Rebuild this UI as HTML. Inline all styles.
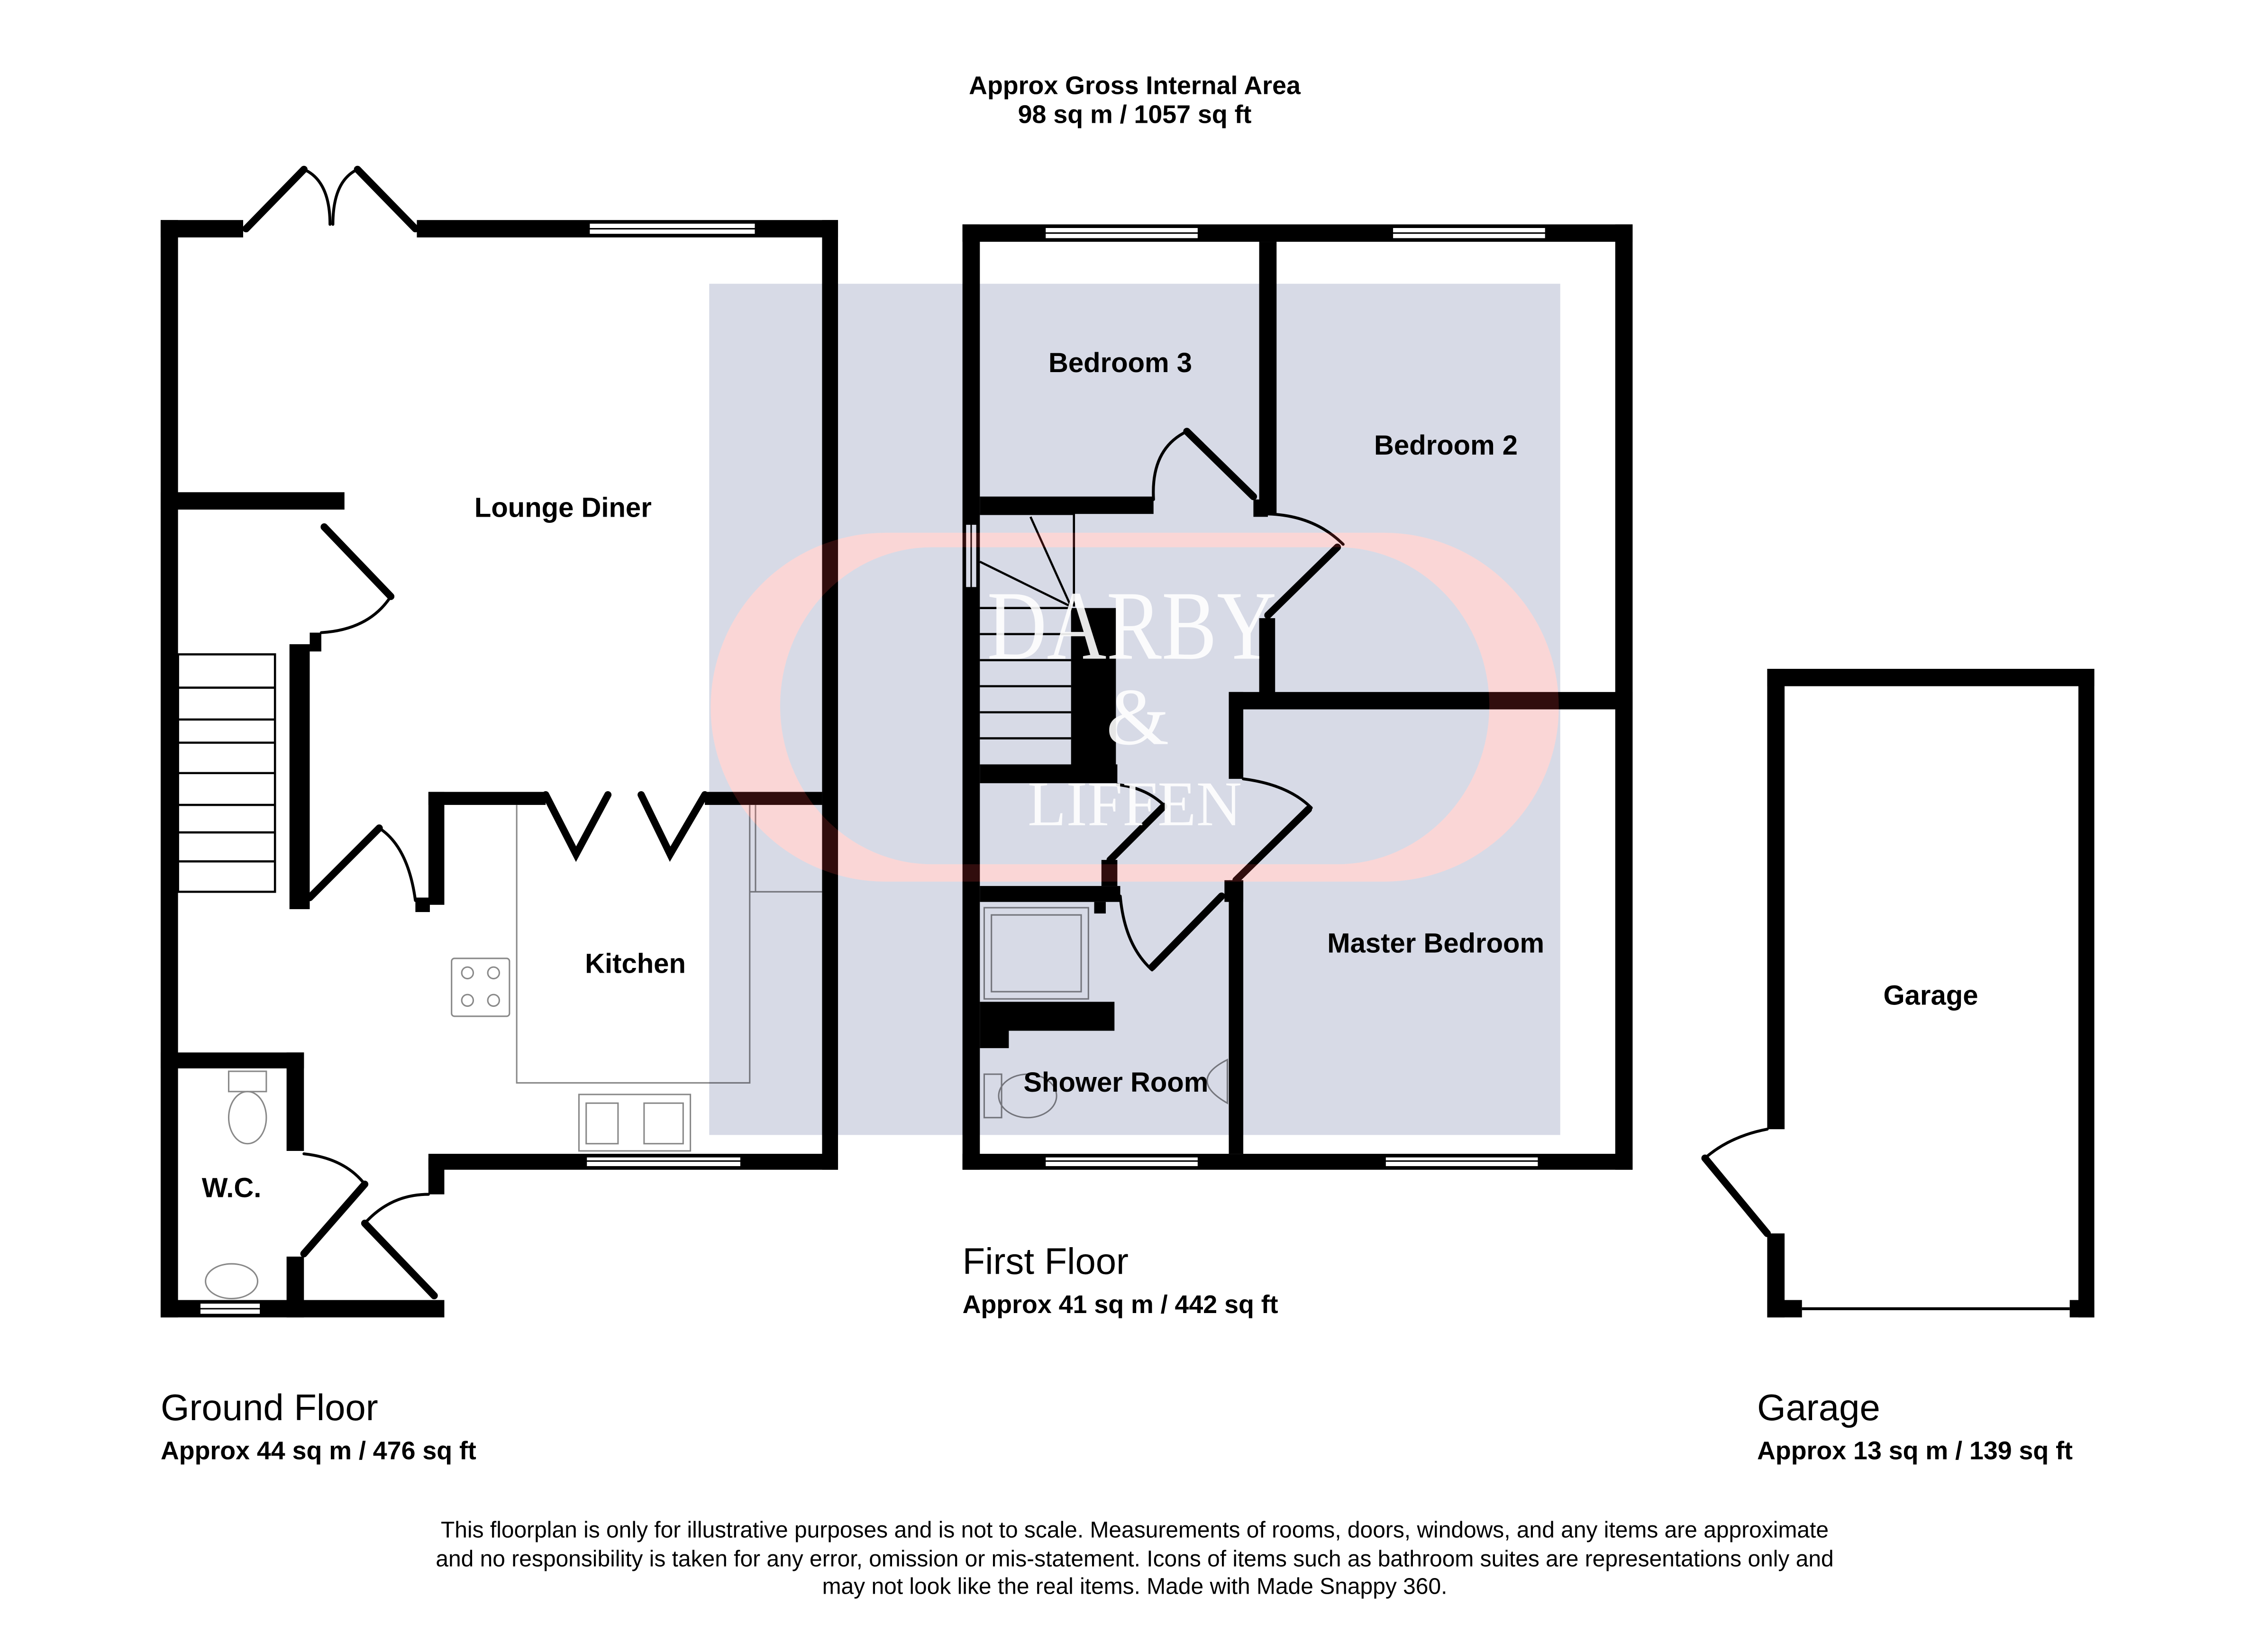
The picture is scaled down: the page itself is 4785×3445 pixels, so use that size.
<!DOCTYPE html>
<html><head><meta charset="utf-8"><style>
html,body{margin:0;padding:0;background:#fff}
svg{display:block}
text{font-family:"Liberation Sans",Arial,sans-serif;fill:#000}
.b{font-weight:bold}
</style></head><body>
<svg width="4785" height="3445" viewBox="0 0 1567 1128" preserveAspectRatio="none" xmlns="http://www.w3.org/2000/svg">
<rect width="1567" height="1128" fill="#fff"/>
<g fill="#000">
<rect x="111" y="152" width="57" height="12"/>
<rect x="288" y="152" width="291" height="12"/>
<rect x="111" y="152" width="12" height="758"/>
<rect x="568" y="152" width="11" height="656"/>
<rect x="296" y="797" width="283" height="11"/>
<rect x="296" y="547" width="11" height="78"/>
<rect x="287" y="620" width="10" height="10"/>
<rect x="296" y="800" width="11" height="25"/>
<rect x="111" y="898" width="196" height="12"/>
<rect x="296" y="547" width="81" height="9"/>
<rect x="487" y="547" width="81" height="9"/>
<rect x="111" y="340" width="127" height="12"/>
<rect x="214" y="437" width="8" height="13"/>
<rect x="200" y="445" width="14" height="183"/>
<rect x="111" y="727" width="99" height="11"/>
<rect x="198" y="727" width="12" height="68"/>
<rect x="198" y="868" width="12" height="42"/>
<rect x="665" y="155" width="463" height="12"/>
<rect x="665" y="155" width="12" height="653"/>
<rect x="1116" y="155" width="12" height="653"/>
<rect x="665" y="797" width="463" height="11"/>
<rect x="870" y="167" width="12" height="188"/>
<rect x="866" y="345" width="10" height="12"/>
<rect x="677" y="343" width="120" height="12"/>
<rect x="870" y="427" width="11" height="55"/>
<rect x="849" y="478" width="279" height="12"/>
<rect x="849" y="478" width="10" height="60"/>
<rect x="849" y="608" width="10" height="189"/>
<rect x="846" y="608" width="13" height="15"/>
<rect x="740" y="420" width="31" height="114"/>
<rect x="677" y="528" width="95" height="13"/>
<rect x="761" y="594" width="11" height="18"/>
<rect x="677" y="612" width="97" height="11"/>
<rect x="756" y="623" width="8" height="8"/>
<rect x="677" y="692" width="93" height="20"/>
<rect x="677" y="712" width="20" height="12"/>
<rect x="1221" y="462" width="226" height="12"/>
<rect x="1221" y="462" width="12" height="318"/>
<rect x="1221" y="852" width="12" height="58"/>
<rect x="1436" y="462" width="11" height="448"/>
<rect x="1221" y="898" width="24" height="12"/>
<rect x="1430" y="898" width="17" height="12"/>
</g>
<line x1="1245" y1="904" x2="1430" y2="904" stroke="#000" stroke-width="2"/>
<g fill="#fff" stroke="#000" stroke-width="1">
<rect x="407" y="154" width="115" height="8"/>
<rect x="405" y="799" width="107" height="7"/>
<rect x="138" y="900" width="42" height="8"/>
<rect x="722" y="157" width="106" height="8"/>
<rect x="962" y="157" width="106" height="8"/>
<rect x="722" y="799" width="106" height="7"/>
<rect x="957" y="799" width="106" height="7"/>
<rect x="667" y="362" width="8" height="44"/>
</g>
<g stroke="#000" stroke-width="1"><line x1="407" y1="158" x2="522" y2="158"/><line x1="722" y1="161" x2="828" y2="161"/><line x1="962" y1="161" x2="1068" y2="161"/><line x1="405" y1="802" x2="512" y2="802"/><line x1="722" y1="802" x2="828" y2="802"/><line x1="957" y1="802" x2="1063" y2="802"/><line x1="138" y1="904" x2="180" y2="904"/><line x1="671" y1="362" x2="671" y2="406"/></g>
<g fill="none" stroke="#000" stroke-linecap="round">
<path d="M170 158 L210 117 M287 158 L247 117" stroke-width="5"/>
<path d="M210 117 Q228 125 228 155 M247 117 Q230 125 230 155" stroke-width="2"/>
<path d="M377 549 L398 590 L420 549 M443 549 L463 590 L487 549" stroke-width="5"/>
<path d="M224 364 L270 412" stroke-width="5"/><path d="M270 412 Q255 435 222 437" stroke-width="2"/>
<path d="M214 620 L262 572" stroke-width="5"/><path d="M262 572 Q282 585 287 622" stroke-width="2"/>
<path d="M300 895 L252 845" stroke-width="5"/><path d="M252 845 Q270 825 296 825" stroke-width="2"/>
<path d="M210 866 L252 818" stroke-width="5"/><path d="M210 797 Q238 800 252 818" stroke-width="2"/>
<path d="M820 298 L866 343" stroke-width="5"/><path d="M797 345 Q795 310 820 298" stroke-width="2"/>
<path d="M924 378 L876 425" stroke-width="5"/><path d="M876 355 Q908 356 928 376" stroke-width="2"/>
<path d="M904 559 L854 608" stroke-width="5"/><path d="M859 538 Q890 542 906 558" stroke-width="2"/>
<path d="M804 557 L767 594" stroke-width="5"/><path d="M772 542 Q792 544 805 557" stroke-width="2"/>
<path d="M796 668 L844 619" stroke-width="5"/><path d="M774 619 Q777 653 796 670" stroke-width="2"/>
<path d="M1178 800 L1221 852" stroke-width="5"/><path d="M1221 780 Q1195 785 1178 800" stroke-width="2"/>
</g>
<g fill="none" stroke="#000" stroke-width="1.5">
<rect x="123" y="452" width="67" height="164"/>
<path d="M123 475H190M123 497H190M123 513H190M123 534H190M123 556H190M123 575H190M123 595H190"/>
<path d="M677 355H742V419M677 388L740 419M712 357L740 419"/>
<path d="M677 420H740M677 438H740M677 456H740M677 474H740M677 492H740M677 510H740"/>
</g>
<g fill="none" stroke="#888" stroke-width="1">
<path d="M357 556V748H518V556M518 616H568M522 556V616"/>
<rect x="312" y="662" width="40" height="40" rx="2"/>
<circle cx="323" cy="672" r="4"/><circle cx="341" cy="672" r="4"/><circle cx="323" cy="691" r="4"/><circle cx="341" cy="691" r="4"/>
<rect x="400" y="756" width="77" height="39"/><rect x="405" y="762" width="22" height="28"/><rect x="445" y="762" width="27" height="28"/>
<rect x="680" y="627" width="72" height="63"/><rect x="685" y="632" width="62" height="53"/>
<rect x="158" y="740" width="26" height="14"/><ellipse cx="171" cy="772" rx="13" ry="18"/>
<ellipse cx="160" cy="885" rx="18" ry="12"/>
<rect x="680" y="742" width="12" height="30"/><ellipse cx="710" cy="757" rx="20" ry="15"/>
<path d="M848 732 Q820 746 848 762Z"/>
</g>
<path fill-rule="evenodd" fill="#d7dae6" style="mix-blend-mode:multiply" d="M490 196H1078V784H490Z M612 368H956A121 120.5 0 0 1 1077 488.5A121 120.5 0 0 1 956 609H612A121 120.5 0 0 1 491 488.5A121 120.5 0 0 1 612 368Z M644 378H924A105 109.5 0 0 1 1029 487.5A105 109.5 0 0 1 924 597H644A105 109.5 0 0 1 539 487.5A105 109.5 0 0 1 644 378Z"/>
<path fill-rule="evenodd" fill="rgba(230,60,60,0.21)" d="M612 368H956A121 120.5 0 0 1 1077 488.5A121 120.5 0 0 1 956 609H612A121 120.5 0 0 1 491 488.5A121 120.5 0 0 1 612 368Z M644 378H924A105 109.5 0 0 1 1029 487.5A105 109.5 0 0 1 924 597H644A105 109.5 0 0 1 539 487.5A105 109.5 0 0 1 644 378Z"/>
<g text-anchor="middle" opacity="0.9">
<text x="782" y="455" style="font-family:'Liberation Serif',serif;fill:#fff;font-size:68px" textLength="200" lengthAdjust="spacingAndGlyphs">DARBY</text>
<text x="786" y="514" style="font-family:'Liberation Serif',serif;fill:#fff;font-size:56px">&amp;</text>
<text x="784" y="570" style="font-family:'Liberation Serif',serif;fill:#fff;font-size:44px" textLength="148" lengthAdjust="spacingAndGlyphs">LIFFEN</text>
</g>
<g font-size="19" text-anchor="middle">
<text x="389" y="357" class="b">Lounge Diner</text>
<text x="439" y="672" class="b">Kitchen</text>
<text x="160" y="827" class="b">W.C.</text>
<text x="774" y="257" class="b">Bedroom 3</text>
<text x="999" y="314" class="b">Bedroom 2</text>
<text x="992" y="658" class="b">Master Bedroom</text>
<text x="771" y="754" class="b">Shower Room</text>
<text x="1334" y="694" class="b">Garage</text>
</g>
<g font-size="17.6" text-anchor="middle">
<text x="784" y="65" class="b">Approx Gross Internal Area</text>
<text x="784" y="85" class="b">98 sq m / 1057 sq ft</text>
</g>
<text x="665" y="880" font-size="25.5">First Floor</text>
<text x="665" y="907" font-size="17.6" class="b">Approx 41 sq m / 442 sq ft</text>
<text x="111" y="981" font-size="25.5">Ground Floor</text>
<text x="111" y="1008" font-size="17.6" class="b">Approx 44 sq m / 476 sq ft</text>
<text x="1214" y="981" font-size="25.5">Garage</text>
<text x="1214" y="1008" font-size="17.6" class="b">Approx 13 sq m / 139 sq ft</text>
<g font-size="15.7" text-anchor="middle">
<text x="784" y="1062">This floorplan is only for illustrative purposes and is not to scale. Measurements of rooms, doors, windows, and any items are approximate</text>
<text x="784" y="1082">and no responsibility is taken for any error, omission or mis-statement. Icons of items such as bathroom suites are representations only and</text>
<text x="784" y="1101">may not look like the real items. Made with Made Snappy 360.</text>
</g>
</svg>
</body></html>
